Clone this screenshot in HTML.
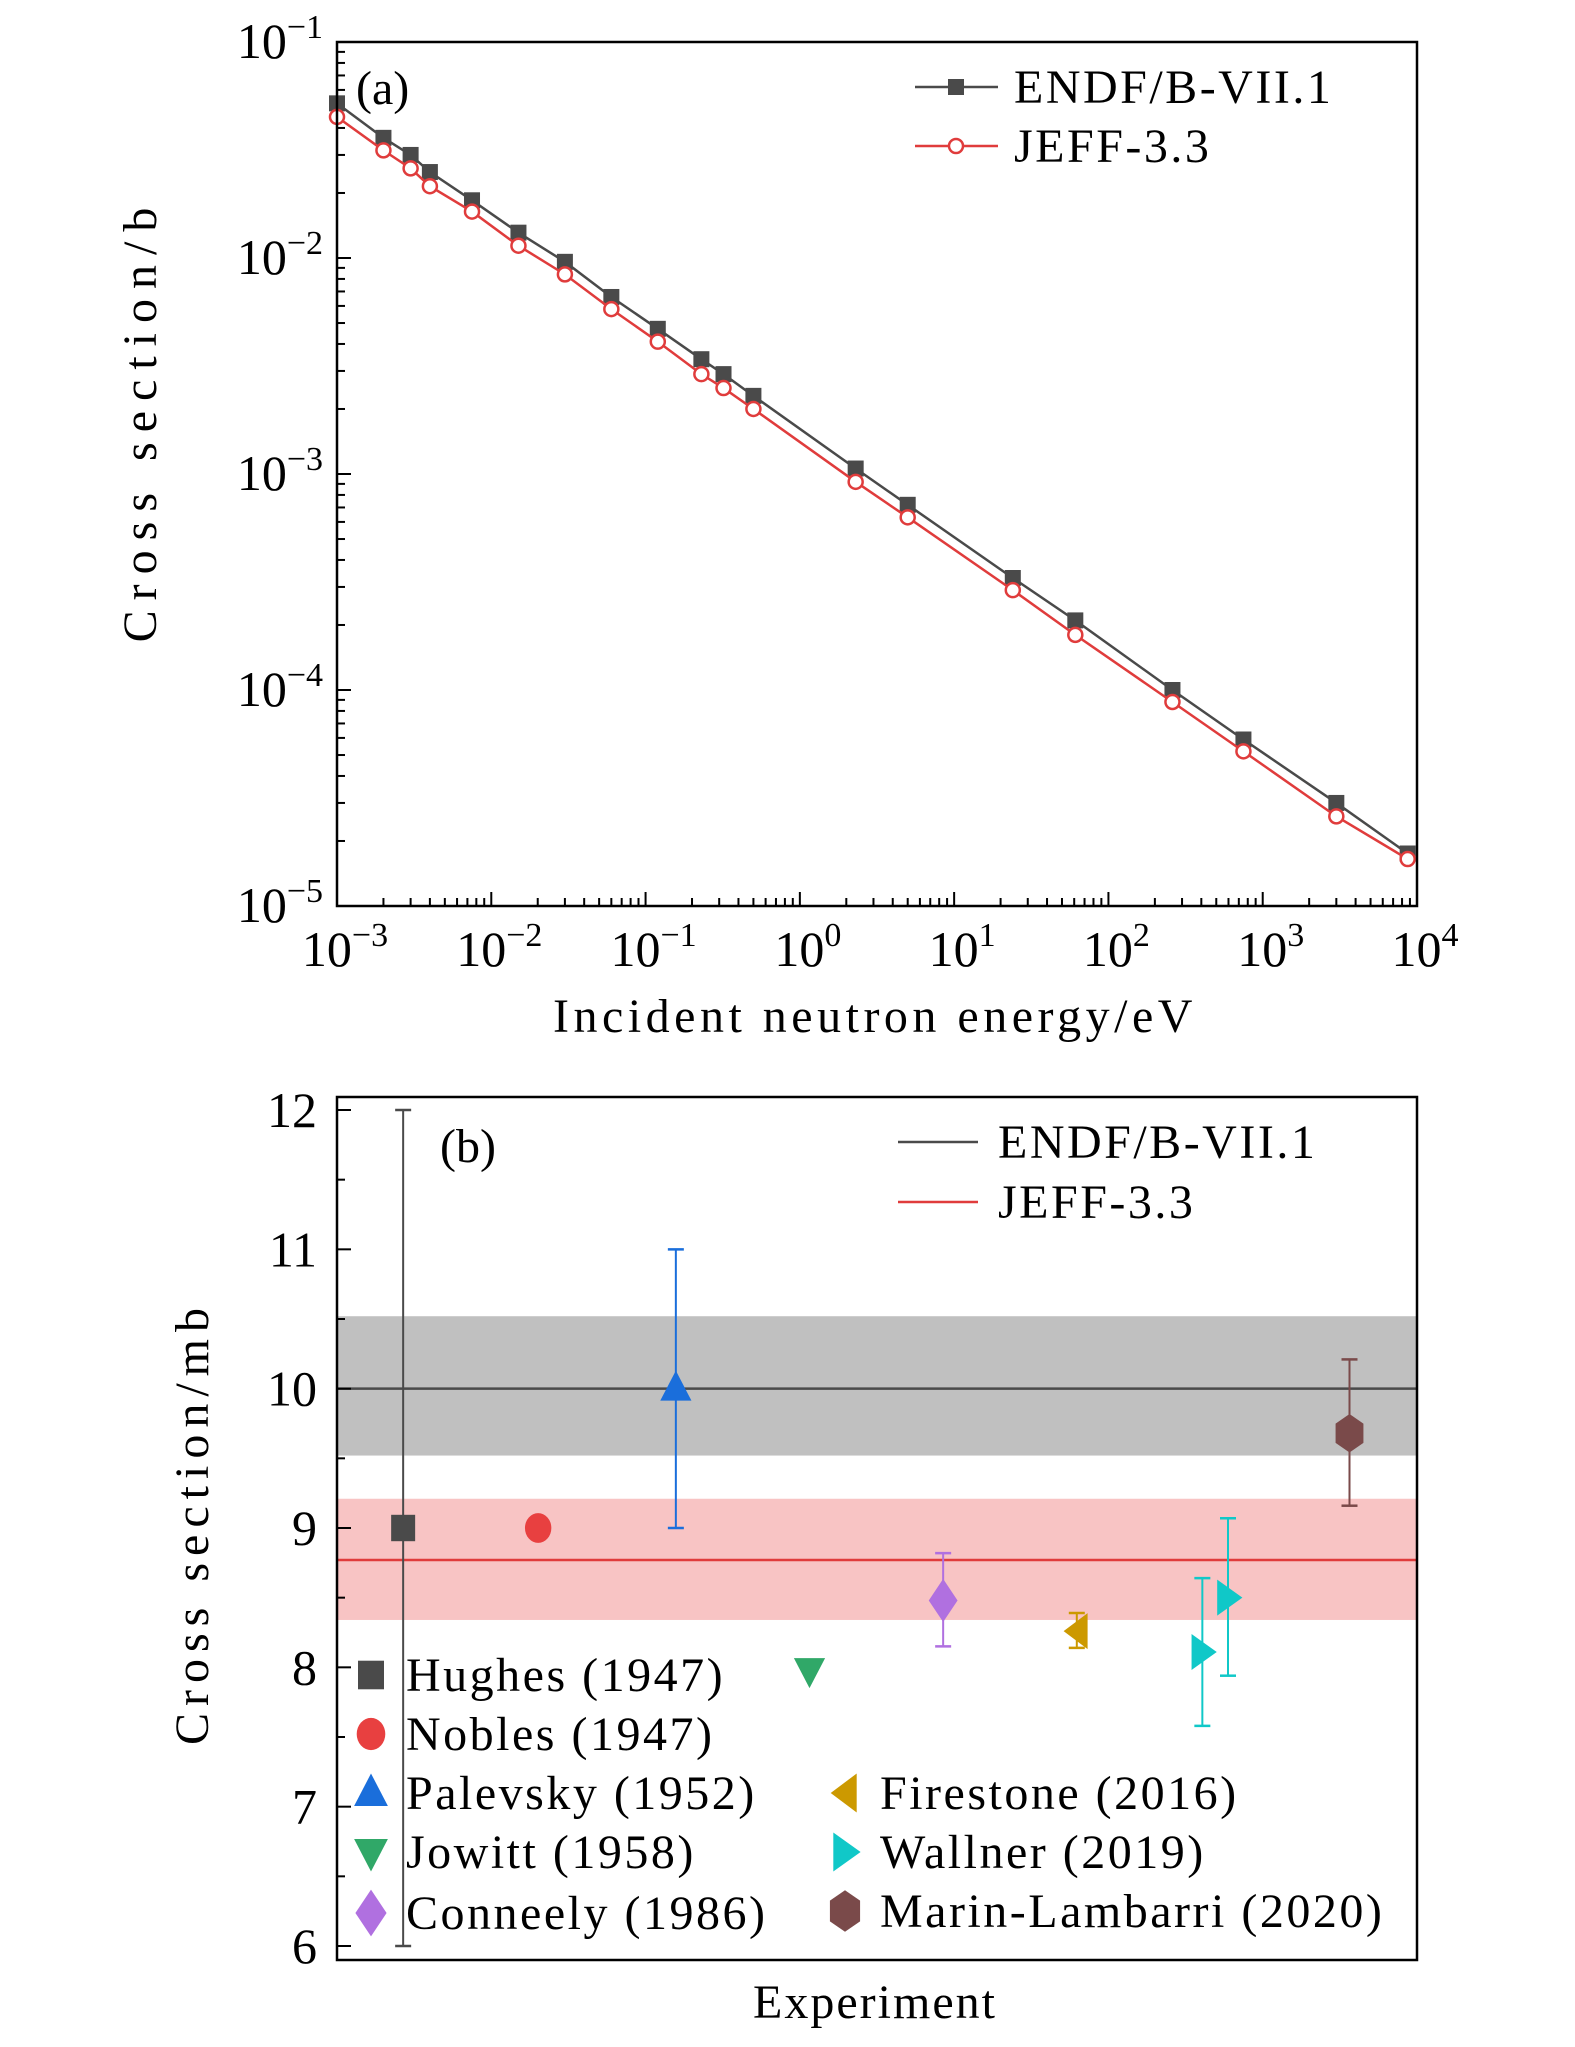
<!DOCTYPE html>
<html><head><meta charset="utf-8"><style>
html,body{margin:0;padding:0;background:#fff;}
svg{display:block;font-family:"Liberation Serif","DejaVu Serif",serif;}
</style></head><body>
<svg id="chart" width="1575" height="2047" viewBox="0 0 1575 2047" xmlns="http://www.w3.org/2000/svg"></svg>
<script>
// ---- Panel (a) data ----
const energies = [0.001,0.002,0.003,0.004,0.0075,0.015,0.03,0.06,0.12,0.23,0.32,0.5,2.3,5,24,61,260,750,3000,8700];
const endfValues = [0.052,0.036,0.030,0.025,0.0185,0.0131,0.0096,0.0066,0.0047,0.0034,0.0029,0.0023,0.00106,0.00072,0.00033,0.00021,0.0001,0.000059,0.000030,0.0000175];
const jeffValues = [0.045,0.0315,0.026,0.0215,0.0164,0.0114,0.0084,0.0058,0.0041,0.0029,0.0025,0.0020,0.00092,0.00063,0.00029,0.00018,0.000088,0.000052,0.000026,0.0000165];
const xExpA = [-3,-2,-1,0,1,2,3,4];
const yExpA = [-1,-2,-3,-4,-5];
// ---- Panel (b) data ----
const experiments = ["Hughes (1947)","Nobles (1947)","Palevsky (1952)","Jowitt (1958)","Conneely (1986)","Firestone (2016)","Wallner (2019)","Wallner (2019)","Marin-Lambarri (2020)"];
const expPos = [0.49,1.49,2.51,3.5,4.49,5.48,6.41,6.60,7.5];
const expValues = [9.0,9.0,10.0,7.98,8.48,8.26,8.11,8.5,9.68];
const expLow = [6.0,null,9.0,null,8.15,8.14,7.58,7.94,9.16];
const expHigh = [12.0,null,11.0,null,8.82,8.39,8.64,9.07,10.21];
const endfB = [10.0, 9.52, 10.52];
const jeffB = [8.77, 8.34, 9.21];
const yTicksB = [6,7,8,9,10,11,12];

const svg = document.getElementById('chart');
const NS = 'http://www.w3.org/2000/svg';
function mk(tag, attrs, parent){const e=document.createElementNS(NS,tag);for(const k in attrs)e.setAttribute(k,attrs[k]);(parent||svg).appendChild(e);return e;}
const FS=48, LS=2.5;

// ===== Panel A =====
const A = {l:337,r:1417,t:42,b:906};
const xA = e => A.l + (Math.log10(e)+3)/7*(A.r-A.l);
const yA = v => A.t + (-1-Math.log10(v))/4*(A.b-A.t);
const gA = mk('g',{});


for(let d=-3; d<=4; d++){
  for(let m=1;m<10;m++){
    const e=m*Math.pow(10,d); if(e>1e4+1) break;
    const x=xA(e); const len=m===1?14:8;
    const t=mk('line',{x1:x,x2:x,y1:A.b,y2:A.b-len,stroke:'#000','stroke-width':2},gA);
    
    
  }
}
for(let d=-5; d<=-1; d++){
  for(let m=1;m<10;m++){
    const v=m*Math.pow(10,d); if(v>0.1+1e-9) break;
    const y=yA(v); const len=m===1?14:8;
    const t=mk('line',{x1:A.l,x2:A.l+len,y1:y,y2:y,stroke:'#000','stroke-width':2},gA);
    
    
  }
}
xExpA.forEach(p=>{
  const t=mk('text',{x:xA(Math.pow(10,p))+8,y:A.b+60,'text-anchor':'middle','font-size':50},gA);
  
  
  t.innerHTML='10<tspan dy="-20" font-size="34">'+(p<0?'\u2212'+(-p):p)+'</tspan>';
});
yExpA.forEach(p=>{
  const t=mk('text',{x:A.l-14,y:yA(Math.pow(10,p))+16,'text-anchor':'end','font-size':50},gA);
  
  
  t.innerHTML='10<tspan dy="-20" font-size="34">\u2212'+(-p)+'</tspan>';
});
function series(vals,color,name,marker){
  const g=mk('g',{},gA);
  
  
  const pts=energies.map((e,i)=>xA(e)+','+yA(vals[i])).join(' ');
  mk('polyline',{points:pts,fill:'none',stroke:color,'stroke-width':2.5},g);
  energies.forEach((e,i)=>{
    let m;
    if(marker==='sq') m=mk('rect',{x:xA(e)-8,y:yA(vals[i])-8,width:16,height:16,fill:color},g);
    else m=mk('circle',{cx:xA(e),cy:yA(vals[i]),r:7,fill:'#fff',stroke:color,'stroke-width':2.5},g);
    
    
  });
}
series(endfValues,'#4a4a4a','endf-series','sq');
series(jeffValues,'#e03c3c','jeff-series','ci');
mk('rect',{x:A.l,y:A.t,width:A.r-A.l,height:A.b-A.t,fill:'none',stroke:'#000','stroke-width':2.5},gA);
const la=mk('text',{x:356,y:104,'font-size':FS},gA); la.textContent='(a)';
 
const lgA=mk('g',{},gA);


mk('line',{x1:915,x2:998,y1:87,y2:87,stroke:'#4a4a4a','stroke-width':2.5},lgA);
mk('rect',{x:948,y:79,width:16,height:16,fill:'#4a4a4a'},lgA);
let t=mk('text',{x:1014,y:103,'font-size':FS,'letter-spacing':LS},lgA); t.textContent='ENDF/B-VII.1';
mk('line',{x1:915,x2:998,y1:146,y2:146,stroke:'#e03c3c','stroke-width':2.5},lgA);
mk('circle',{cx:956,cy:146,r:7,fill:'#fff',stroke:'#e03c3c','stroke-width':2.5},lgA);
t=mk('text',{x:1014,y:162,'font-size':FS,'letter-spacing':LS},lgA); t.textContent='JEFF-3.3';
t=mk('text',{x:875,y:1032,'text-anchor':'middle','font-size':FS,'letter-spacing':4.5},gA); t.textContent='Incident neutron energy/eV';
 
t=mk('text',{x:0,y:0,'text-anchor':'middle','font-size':FS,'letter-spacing':10,transform:'translate(156,420) rotate(-90)'},gA); t.textContent='Cross section/b';
 

// ===== Panel B =====
const B = {l:337,r:1417,t:1097,b:1960};
const yB = v => 1946 - (v-6)*(1946-1110)/6;
const xB = p => B.l + p/8*(B.r-B.l);
const gB = mk('g',{});


let band=mk('rect',{x:B.l,y:yB(endfB[2]),width:B.r-B.l,height:yB(endfB[1])-yB(endfB[2]),fill:'#c0c0c0'},gB);
 
band=mk('rect',{x:B.l,y:yB(jeffB[2]),width:B.r-B.l,height:yB(jeffB[1])-yB(jeffB[2]),fill:'#f8c4c4'},gB);
 
let ln=mk('line',{x1:B.l,x2:B.r,y1:yB(endfB[0]),y2:yB(endfB[0]),stroke:'#4a4a4a','stroke-width':2.5},gB);
 
ln=mk('line',{x1:B.l,x2:B.r,y1:yB(jeffB[0]),y2:yB(jeffB[0]),stroke:'#e03c3c','stroke-width':2.5},gB);
 
for(let v=6; v<=12.001; v+=0.5){
  const major=Math.abs(v-Math.round(v))<1e-6;
  const tk=mk('line',{x1:B.l,x2:B.l+(major?14:8),y1:yB(v),y2:yB(v),stroke:'#000','stroke-width':2},gB);
   
}
yTicksB.forEach(v=>{
  const tl=mk('text',{x:B.l-20,y:yB(v)+17,'text-anchor':'end','font-size':50},gB); tl.textContent=v;
   
});
const colors=['#4a4a4a','#e84040','#1a6edb','#30a868','#b070e0','#cc9900','#10c8c8','#10c8c8','#7a4a4a'];
const shapes=['sq','ci','tu','td','di','tl','tr','tr','hx'];
function shape(kind,cx,cy,s,color,parent){
  let e;
  if(kind==='sq') e=mk('rect',{x:cx-s*0.5,y:cy-s*0.55,width:s,height:s*1.1,fill:color},parent);
  else if(kind==='ci') e=mk('ellipse',{cx,cy,rx:s*0.55,ry:s*0.62,fill:color},parent);
  else {
    let p;
    if(kind==='tu') p=[[0,-s*0.75],[s*0.65,s*0.5],[-s*0.65,s*0.5]];
    if(kind==='td') p=[[0,s*0.75],[s*0.65,-s*0.5],[-s*0.65,-s*0.5]];
    if(kind==='tl') p=[[-s*0.55,0],[s*0.45,-s*0.75],[s*0.45,s*0.75]];
    if(kind==='tr') p=[[s*0.6,0],[-s*0.45,-s*0.75],[-s*0.45,s*0.75]];
    if(kind==='di') p=[[0,-s*0.9],[s*0.6,0],[0,s*0.9],[-s*0.6,0]];
    if(kind==='hx') p=[[0,-s*0.8],[s*0.58,-s*0.4],[s*0.58,s*0.4],[0,s*0.8],[-s*0.58,s*0.4],[-s*0.58,-s*0.4]];
    e=mk('polygon',{points:p.map(q=>(cx+q[0])+','+(cy+q[1])).join(' '),fill:color},parent);
  }
  return e;
}
expValues.forEach((v,i)=>{
  const g=mk('g',{},gB);
  
  
  const x=xB(expPos[i]);
  if(expLow[i]!==null){
    mk('line',{x1:x,x2:x,y1:yB(expLow[i]),y2:yB(expHigh[i]),stroke:colors[i],'stroke-width':2},g);
    mk('line',{x1:x-8,x2:x+8,y1:yB(expLow[i]),y2:yB(expLow[i]),stroke:colors[i],'stroke-width':2.5},g);
    mk('line',{x1:x-8,x2:x+8,y1:yB(expHigh[i]),y2:yB(expHigh[i]),stroke:colors[i],'stroke-width':2.5},g);
  }
  shape(shapes[i],x,yB(v),24,colors[i],g);
});
mk('rect',{x:B.l,y:B.t,width:B.r-B.l,height:B.b-B.t,fill:'none',stroke:'#000','stroke-width':2.5},gB);
t=mk('text',{x:440,y:1162,'font-size':FS},gB); t.textContent='(b)';
 
const lgB=mk('g',{},gB);


mk('line',{x1:898,x2:978,y1:1142,y2:1142,stroke:'#4a4a4a','stroke-width':2.5},lgB);
t=mk('text',{x:998,y:1158,'font-size':FS,'letter-spacing':LS},lgB); t.textContent='ENDF/B-VII.1';
mk('line',{x1:898,x2:978,y1:1202,y2:1202,stroke:'#e03c3c','stroke-width':2.5},lgB);
t=mk('text',{x:998,y:1218,'font-size':FS,'letter-spacing':LS},lgB); t.textContent='JEFF-3.3';
const legRows=[[0,371,1675],[1,371,1734],[2,371,1793],[3,371,1852],[4,371,1913],[5,845,1793],[6,845,1852],[8,845,1911]];
legRows.forEach(r=>{
  const i=r[0];
  const g=mk('g',{},gB);
  
  
  shape(shapes[i],r[1],r[2],26,colors[i],g);
  const tx=mk('text',{x:r[1]+35,y:r[2]+16,'font-size':FS,'letter-spacing':LS},g); tx.textContent=experiments[i];
});
t=mk('text',{x:875,y:2018,'text-anchor':'middle','font-size':FS,'letter-spacing':2},gB); t.textContent='Experiment';
 
t=mk('text',{x:0,y:0,'text-anchor':'middle','font-size':FS,'letter-spacing':7,transform:'translate(208,1523) rotate(-90)'},gB); t.textContent='Cross section/mb';
 
</script>
</body></html>
